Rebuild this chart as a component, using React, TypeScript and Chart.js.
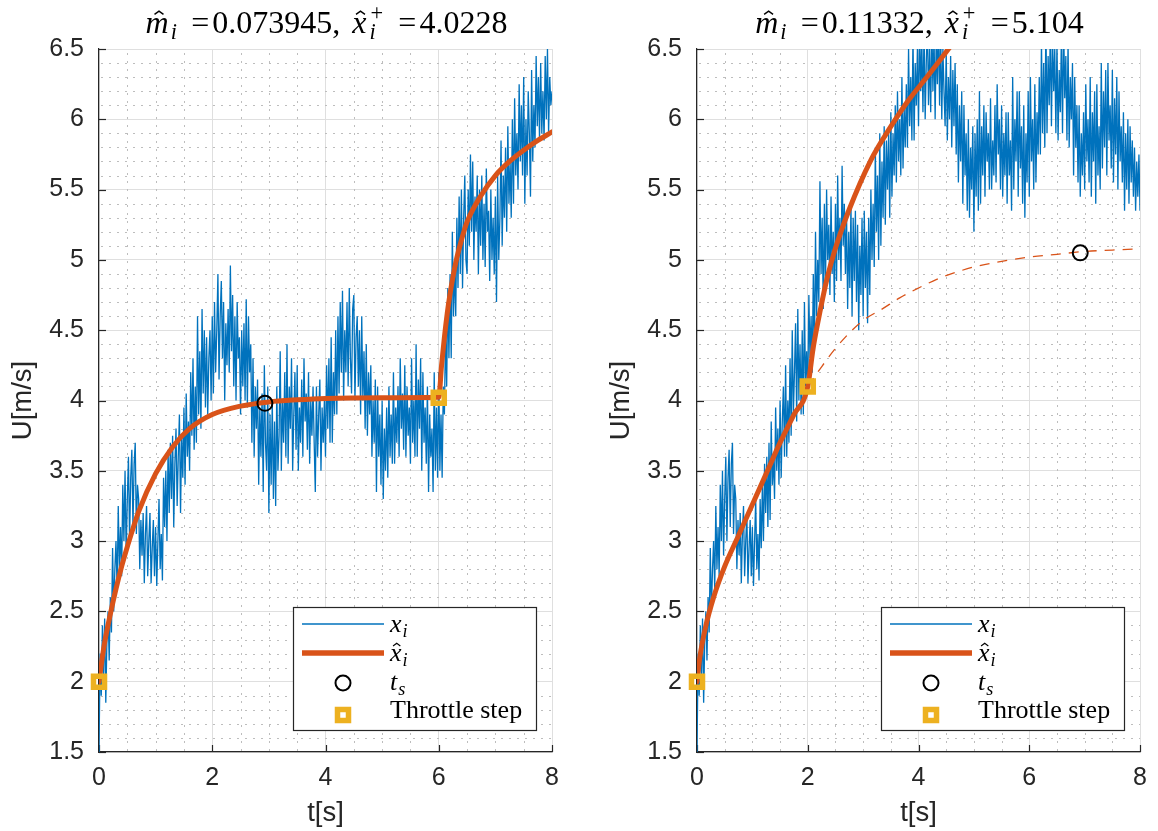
import React, { useEffect, useRef } from "react";
import { Chart, registerables } from "chart.js";

Chart.register(...registerables);

// ---------------- data ----------------
const SAMPLE_DT = 0.02; // sampling period of the measured signal [s]

// Left panel, measured speed x_i [m/s], one value every SAMPLE_DT from t = 0 to 8 s
const LEFT_U = [
  1.5, 2.2, 1.9, 2.4, 2.05, 2.45, 1.85, 2.3, 2.5, 2.15, 2.6, 2.35, 2.95, 2.5, 2.8, 3.0, 2.65, 3.25, 2.8, 3.1, 2.75, 3.4, 3.0, 3.5, 2.9,
  3.3, 3.6, 3.0, 3.45, 3.65, 3.1, 3.55, 3.7, 3.05, 3.4, 3.3, 2.8, 3.15, 2.9, 3.2, 2.7, 3.05, 3.25, 2.75, 3.0, 3.2, 2.7, 2.95, 3.15, 2.75,
  3.1, 2.68, 3.0, 3.3, 2.8, 3.05, 2.72, 3.45, 3.1, 3.5, 3.0, 3.65, 3.2, 3.7, 3.3, 3.75, 3.1, 3.55, 3.8, 3.25, 3.6, 3.9, 3.2, 3.75, 3.45,
  3.95, 3.4, 4.05, 3.6, 3.85, 3.5, 4.2, 3.75, 4.3, 3.65, 4.1, 3.7, 4.6, 3.9, 4.35, 3.8, 4.65, 4.05, 4.5, 3.95, 4.45, 3.9, 4.3, 4.5, 4.0,
  4.6, 4.05, 4.7, 4.2, 4.5, 4.9, 4.15, 4.6, 4.85, 4.3, 4.7, 4.0, 4.55, 4.25, 4.65, 4.2, 4.96, 4.35, 4.75, 4.1, 4.6, 4.0, 4.7, 4.3, 4.45,
  3.9, 4.5, 4.1, 4.55, 4.0, 4.72, 3.95, 4.6, 4.2, 4.4, 3.7, 4.3, 3.6, 4.1, 3.8, 4.15, 3.4, 3.95, 3.6, 4.05, 3.35, 4.25, 3.7, 3.5, 4.1,
  3.2, 3.9, 3.4, 4.0, 3.3, 3.85, 3.25, 4.1, 3.5, 3.75, 4.35, 3.5, 4.0, 3.7, 4.2, 3.6, 4.4, 3.55, 4.1, 3.8, 4.3, 3.5, 3.9, 4.2, 3.65,
  4.25, 3.5, 3.95, 3.7, 4.15, 3.6, 4.3, 3.85, 4.05, 3.65, 4.2, 3.55, 4.0, 3.75, 4.1, 3.7, 3.35, 4.1, 3.6, 3.9, 4.15, 3.5, 3.95, 3.7, 4.0,
  3.6, 4.25, 3.8, 4.3, 3.7, 4.45, 3.7, 4.2, 3.9, 4.5, 3.9, 4.6, 4.05, 4.7, 4.2, 4.78, 4.0, 4.5, 4.2, 4.7, 4.1, 4.8, 4.3, 4.05, 4.65,
  4.75, 4.0, 4.45, 4.6, 4.1, 4.5, 3.9, 4.6, 4.0, 4.35, 3.8, 4.4, 3.75, 4.2, 3.9, 4.25, 3.6, 4.0, 3.7, 4.15, 3.35, 4.1, 3.6, 3.9, 3.4,
  4.0, 3.3, 3.8, 3.5, 3.95, 3.45, 4.1, 3.6, 3.9, 3.55, 4.2, 3.55, 3.95, 3.7, 4.1, 3.6, 4.3, 3.8, 4.05, 3.65, 4.25, 3.6, 4.1, 3.75, 3.95,
  3.55, 4.3, 3.7, 4.0, 3.6, 4.4, 3.6, 4.15, 3.8, 4.3, 3.5, 4.2, 3.7, 3.95, 3.55, 4.1, 3.35, 3.9, 3.6, 3.8, 3.35, 4.2, 3.5, 3.95, 3.45,
  4.2, 3.5, 3.9, 3.45, 4.1, 3.9, 4.5, 4.1, 4.8, 4.3, 4.9, 4.3, 5.2, 4.6, 4.95, 4.6, 5.3, 4.8, 5.45, 4.9, 5.5, 4.8, 5.3, 5.6, 5.0,
  4.9, 5.5, 5.1, 5.75, 5.2, 5.7, 5.0, 5.45, 5.2, 5.6, 4.9, 5.5, 5.1, 5.6, 5.0, 5.4, 4.95, 5.65, 5.2, 5.35, 4.85, 5.5, 5.0, 5.3, 4.9,
  5.45, 4.7, 5.6, 5.0, 5.3, 5.85, 5.1, 5.6, 5.3, 5.8, 5.2, 5.95, 5.4, 5.7, 5.3, 6.0, 5.4, 6.15, 5.6, 5.9, 5.5, 6.25, 5.7, 6.1, 5.6,
  6.3, 5.4, 6.0, 5.6, 6.2, 5.9, 5.45, 6.35, 5.7, 6.1, 5.8, 6.45, 5.95, 6.3, 5.85, 6.4, 5.9, 6.2, 5.85, 6.45, 6.0, 6.5, 5.9, 6.3, 6.1,
  6.2,
];

// Right panel, measured speed x_i [m/s]
const RIGHT_U = [
  1.5, 2.2, 1.9, 2.4, 2.05, 2.45, 1.85, 2.3, 2.5, 2.15, 2.6, 2.35, 2.95, 2.5, 2.8, 3.0, 2.65, 3.25, 2.8, 3.1, 2.75, 3.4, 3.0, 3.5, 2.9,
  3.3, 3.6, 3.0, 3.45, 3.65, 3.1, 3.55, 3.7, 3.05, 3.4, 3.3, 2.8, 3.15, 2.9, 3.2, 2.7, 3.05, 3.25, 2.75, 3.0, 3.2, 2.7, 2.95, 3.15, 2.75,
  3.1, 2.68, 3.0, 3.3, 2.8, 3.05, 2.72, 3.3, 2.95, 3.4, 3.0, 3.55, 3.2, 3.6, 3.1, 3.7, 3.15, 3.85, 3.4, 3.6, 3.3, 3.95, 3.5, 3.8, 3.4,
  4.0, 3.45, 3.85, 4.1, 3.6, 4.25, 3.6, 4.0, 3.7, 4.3, 3.75, 4.5, 3.9, 4.2, 4.55, 3.85, 4.65, 4.0, 4.4, 3.9, 4.5, 3.9, 4.7, 4.1, 4.35,
  4.05, 4.75, 4.3, 4.6, 4.2, 4.9, 4.35, 5.2, 4.6, 5.0, 4.7, 5.56, 4.9, 5.3, 4.65, 5.4, 4.8, 5.5, 5.0, 5.25, 4.75, 5.45, 4.9, 5.2, 4.7,
  5.4, 4.85, 5.6, 5.0, 5.3, 4.85, 5.67, 5.1, 5.4, 4.9, 5.35, 4.65, 5.2, 4.8, 5.4, 4.6, 5.3, 4.85, 5.35, 4.7, 5.25, 4.5, 5.1, 4.75, 5.3,
  4.6, 5.35, 4.8, 5.2, 4.55, 5.3, 4.75, 5.5, 5.0, 5.4, 4.95, 5.8, 5.2, 5.6, 5.0, 5.9, 5.1, 5.7, 5.3, 5.95, 5.25, 5.85, 5.5, 5.9, 5.3,
  6.05, 5.45, 5.9, 5.6, 6.1, 5.55, 6.2, 5.7, 6.0, 5.6, 6.3, 5.65, 6.1, 5.8, 6.25, 5.8, 6.5, 5.95, 6.3, 5.85, 6.6, 5.85, 6.4, 6.1, 6.5,
  5.95, 6.7, 6.2, 6.55, 6.05, 6.65, 6.0, 6.4, 6.7, 6.1, 6.5, 6.05, 6.7, 6.2, 6.6, 6.0, 6.6, 6.25, 6.7, 6.1, 6.65, 6.0, 6.5, 6.2, 5.95,
  6.5, 5.85, 6.3, 6.0, 6.45, 5.8, 6.35, 5.95, 6.4, 5.75, 6.25, 5.55, 6.1, 5.7, 6.2, 5.4, 6.1, 5.6, 5.9, 5.35, 6.0, 5.3, 5.8, 5.5, 5.95,
  5.2, 5.9, 5.45, 6.0, 5.35, 6.2, 5.4, 5.95, 5.6, 6.1, 5.45, 6.05, 5.7, 5.9, 5.5, 6.15, 5.5, 5.85, 5.6, 6.1, 5.55, 6.25, 5.75, 6.0, 5.5,
  6.1, 5.45, 5.9, 5.6, 6.05, 5.4, 6.05, 5.6, 5.85, 5.35, 6.3, 5.5, 6.0, 5.7, 6.2, 5.45, 6.2, 5.65, 5.95, 5.4, 6.1, 5.3, 5.9, 5.55, 6.2,
  5.45, 6.3, 5.7, 6.0, 5.5, 6.25, 5.55, 6.05, 5.75, 6.3, 5.75, 6.55, 5.9, 6.4, 5.8, 6.7, 5.9, 6.45, 6.1, 6.65, 5.95, 6.6, 6.2, 6.5, 5.9,
  6.55, 5.85, 6.35, 6.05, 6.6, 5.9, 6.7, 6.15, 6.45, 5.85, 6.55, 5.8, 6.3, 6.0, 6.4, 5.6, 6.3, 5.8, 6.1, 5.55, 6.1, 5.45, 5.9, 5.6, 6.05,
  5.5, 6.25, 5.7, 6.0, 5.55, 6.3, 5.45, 6.05, 5.7, 6.2, 5.4, 6.25, 5.6, 5.95, 5.5, 6.4, 5.65, 6.2, 5.8, 6.35, 5.6, 6.4, 5.85, 6.1, 5.65,
  6.35, 5.55, 6.15, 5.75, 6.3, 5.5, 6.2, 5.7, 5.95, 5.55, 6.05, 5.35, 5.9, 5.5, 6.0, 5.4, 5.95, 5.55, 5.85, 5.45, 5.8, 5.35, 5.7, 5.45, 5.75,
  5.35,
];

// Fitted responses x̂_i
const LEFT_FIT_T = [0, 0.05, 0.1, 0.2, 0.3, 0.4, 0.5, 0.7, 1.0, 1.3, 1.6, 2.0, 2.5, 3.0, 3.5, 4.0, 5.0, 6.0, 6.05, 6.1, 6.15, 6.2, 6.3, 6.4, 6.5, 6.75, 7.0, 7.25, 7.5, 7.75, 8.0];
const LEFT_FIT_U = [2.0, 2.15, 2.28, 2.48, 2.66, 2.82, 2.96, 3.21, 3.48, 3.67, 3.8, 3.9, 3.96, 3.99, 4.005, 4.015, 4.02, 4.023, 4.25, 4.45, 4.62, 4.76, 4.98, 5.14, 5.27, 5.46, 5.6, 5.7, 5.78, 5.85, 5.91];

const RIGHT_FIT_T = [0, 0.05, 0.15, 0.3, 0.5, 0.75, 1.0, 1.25, 1.5, 1.75, 2.0, 2.1, 2.23, 2.35, 2.49, 2.75, 3.14, 3.47, 3.79, 4.19, 4.54, 4.7];
const RIGHT_FIT_U = [2.0, 2.17, 2.38, 2.6, 2.82, 3.04, 3.26, 3.48, 3.7, 3.9, 4.1, 4.38, 4.65, 4.87, 5.07, 5.36, 5.71, 5.93, 6.12, 6.32, 6.5, 6.58];

// Right panel: predicted response after the step (dashed)
const RIGHT_PRED_T = [2.0, 2.25, 2.5, 2.75, 3.0, 3.34, 3.66, 4.0, 4.38, 4.74, 5.0, 5.5, 6.0, 6.5, 7.0, 7.5, 8.0];
const RIGHT_PRED_U = [4.1, 4.24, 4.37, 4.48, 4.57, 4.65, 4.73, 4.8, 4.87, 4.92, 4.95, 4.99, 5.02, 5.04, 5.06, 5.07, 5.08];

// Settling points t_s
const LEFT_TS_T = [2.93];
const LEFT_TS_U = [3.98];
const RIGHT_TS_T = [6.92];
const RIGHT_TS_U = [5.05];

// Throttle steps
const LEFT_STEP_T = [0, 6];
const LEFT_STEP_U = [2.0, 4.02];
const RIGHT_STEP_T = [0, 2];
const RIGHT_STEP_U = [2.0, 4.1];

// Titles
const LEFT_M = "0.073945";
const LEFT_XP = "4.0228";
const RIGHT_M = "0.11332";
const RIGHT_XP = "5.104";

// Axes
const X_TICKS = [0, 2, 4, 6, 8];
const Y_TICKS = [1.5, 2, 2.5, 3, 3.5, 4, 4.5, 5, 5.5, 6, 6.5];
const X_LABEL = "t[s]";
const Y_LABEL = "U[m/s]";
const LEGEND_LABELS = ["x_i", "x̂_i", "t_s", "Throttle step"];

// ---------------- styles ----------------
const BLUE = "#0072BD";
const ORANGE = "#D95319";
const YELLOW = "#EDB120";
const AXIS = "#262626";
const GRID = "#dfdfdf";
const MINOR = "#bdbdbd";
const SANS = '"Liberation Sans", Arial, Helvetica, sans-serif';
const SERIF = '"Liberation Serif", "Times New Roman", serif';

type Run = { t?: string; it?: boolean; hat?: boolean; sup?: string; sub?: string; gap?: number };

function fnt(size: number, it: boolean) {
  return `${it ? "italic " : ""}${size}px ${SERIF}`;
}

function runWidth(ctx: CanvasRenderingContext2D, r: Run, size: number) {
  if (r.gap !== undefined) return r.gap;
  if (r.t !== undefined) {
    ctx.font = fnt(size, !!r.it);
    return ctx.measureText(r.t).width;
  }
  const ss = size * 0.7;
  let w = 0;
  if (r.sup) {
    ctx.font = fnt(ss, false);
    w = Math.max(w, ctx.measureText(r.sup).width);
  }
  if (r.sub) {
    ctx.font = fnt(ss, true);
    w = Math.max(w, ctx.measureText(r.sub).width);
  }
  return w + size * 0.04;
}

function drawMath(ctx: CanvasRenderingContext2D, runs: Run[], x0: number, base: number, size: number, align: "left" | "center") {
  let total = 0;
  for (const r of runs) total += runWidth(ctx, r, size);
  let x = align === "center" ? x0 - total / 2 : x0;
  ctx.save();
  ctx.textAlign = "left";
  ctx.textBaseline = "alphabetic";
  ctx.fillStyle = "#000";
  ctx.strokeStyle = "#000";
  for (const r of runs) {
    const w = runWidth(ctx, r, size);
    if (r.gap !== undefined) {
      // spacing only
    } else if (r.t !== undefined) {
      ctx.font = fnt(size, !!r.it);
      ctx.fillText(r.t, x, base);
      if (r.hat) {
        const cx = x + w * 0.58;
        const top = base - size * 0.68;
        const hw = size * 0.14;
        const hh = size * 0.1;
        ctx.beginPath();
        ctx.moveTo(cx - hw, top + hh);
        ctx.lineTo(cx, top);
        ctx.lineTo(cx + hw, top + hh);
        ctx.lineWidth = Math.max(1, size * 0.045);
        ctx.stroke();
      }
    } else {
      const ss = size * 0.7;
      if (r.sup) {
        ctx.font = fnt(ss, false);
        ctx.fillText(r.sup, x + size * 0.03, base - size * 0.42);
      }
      if (r.sub) {
        ctx.font = fnt(ss, true);
        ctx.fillText(r.sub, x, base + size * 0.2);
      }
    }
    x += w;
  }
  ctx.restore();
}

function mathRuns(label: string): Run[] {
  if (label === "x_i") return [{ t: "x", it: true }, { gap: 1 }, { sub: "i" }];
  if (label === "x̂_i") return [{ t: "x", it: true, hat: true }, { gap: 1 }, { sub: "i" }];
  if (label === "t_s") return [{ t: "t", it: true }, { gap: 1 }, { sub: "s" }];
  return [{ t: label }];
}

function decorPlugin(mVal: string, xVal: string) {
  return {
    id: "panelDecor",
    beforeDatasetsDraw(chart: any) {
      const { ctx, chartArea: ca, scales } = chart;
      const xs = scales.x;
      const ys = scales.y;
      ctx.save();
      // minor dotted grid
      ctx.strokeStyle = MINOR;
      ctx.lineWidth = 1;
      ctx.setLineDash([2, 6]);
      for (let i = 1; i < 16; i++) {
        if (i % 4 === 0) continue;
        const px = Math.round(xs.getPixelForValue(i * 0.5)) + 0.5;
        ctx.beginPath();
        ctx.moveTo(px, ca.bottom - 1);
        ctx.lineTo(px, ca.top);
        ctx.stroke();
      }
      for (let i = 1; i < 50; i++) {
        if (i % 5 === 0) continue;
        const py = Math.round(ys.getPixelForValue(1.5 + i * 0.1)) + 0.5;
        ctx.beginPath();
        ctx.moveTo(ca.left + 2, py);
        ctx.lineTo(ca.right, py);
        ctx.stroke();
      }
      ctx.setLineDash([]);
      // inward tick marks
      ctx.strokeStyle = AXIS;
      ctx.lineWidth = 1.2;
      for (const v of X_TICKS) {
        const px = Math.round(xs.getPixelForValue(v)) + 0.5;
        ctx.beginPath();
        ctx.moveTo(px, ca.bottom);
        ctx.lineTo(px, ca.bottom - 7);
        ctx.stroke();
      }
      for (const v of Y_TICKS) {
        const py = Math.round(ys.getPixelForValue(v)) + 0.5;
        ctx.beginPath();
        ctx.moveTo(ca.left, py);
        ctx.lineTo(ca.left + 7, py);
        ctx.stroke();
      }
      ctx.restore();
    },
    afterDraw(chart: any) {
      const { ctx, chartArea: ca } = chart;
      // title
      const titleRuns: Run[] = [
        { t: "m", it: true, hat: true },
        { gap: 2 },
        { sub: "i" },
        { gap: 13 },
        { t: "=" },
        { gap: 3 },
        { t: mVal + "," },
        { gap: 12 },
        { t: "x", it: true, hat: true },
        { gap: 3 },
        { sup: "+", sub: "i" },
        { gap: 15 },
        { t: "=" },
        { gap: 3 },
        { t: xVal },
      ];
      drawMath(ctx, titleRuns, (ca.left + ca.right) / 2 + 1, 33, 32, "center");

      // legend
      const W = 243;
      const H = 123;
      const bx = Math.round(ca.right - 16 - W);
      const by = Math.round(ca.bottom - 22 - H);
      ctx.save();
      ctx.fillStyle = "#fff";
      ctx.fillRect(bx, by, W, H);
      ctx.strokeStyle = AXIS;
      ctx.lineWidth = 1.2;
      ctx.strokeRect(bx + 0.5, by + 0.5, W, H);
      // x_i
      ctx.strokeStyle = BLUE;
      ctx.lineWidth = 1.3;
      ctx.beginPath();
      ctx.moveTo(bx + 9, by + 17);
      ctx.lineTo(bx + 91, by + 17);
      ctx.stroke();
      // fit
      ctx.strokeStyle = ORANGE;
      ctx.lineWidth = 5.5;
      ctx.beginPath();
      ctx.moveTo(bx + 9, by + 46);
      ctx.lineTo(bx + 91, by + 46);
      ctx.stroke();
      // t_s circle
      ctx.strokeStyle = "#000";
      ctx.lineWidth = 2;
      ctx.beginPath();
      ctx.arc(bx + 50, by + 76, 7.5, 0, Math.PI * 2);
      ctx.stroke();
      // throttle square
      ctx.strokeStyle = YELLOW;
      ctx.lineWidth = 5.5;
      ctx.strokeRect(bx + 50 - 5.5, by + 108 - 5.5, 11, 11);
      ctx.restore();
      const bases = [25, 54, 83, 111];
      LEGEND_LABELS.forEach((lab, i) => {
        drawMath(ctx, mathRuns(lab), bx + 97, by + bases[i], 26, "left");
      });
    },
  };
}

function pts(ts: number[], us: number[]) {
  return ts.map((t, i) => ({ x: t, y: us[i] }));
}

function sampled(us: number[]) {
  return us.map((u, i) => ({ x: i * SAMPLE_DT, y: u }));
}

type PanelSpec = {
  u: number[];
  fitT: number[];
  fitU: number[];
  predT?: number[];
  predU?: number[];
  tsT: number[];
  tsU: number[];
  stepT: number[];
  stepU: number[];
  m: string;
  xp: string;
  yWidth: number;
  padRight: number;
  yTitlePad: number;
};

function makeConfig(p: PanelSpec): any {
  const datasets: any[] = [
    {
      data: sampled(p.u),
      borderColor: BLUE,
      borderWidth: 1.3,
      pointRadius: 0,
      pointHoverRadius: 0,
      tension: 0,
      order: 5,
    },
    {
      data: pts(p.fitT, p.fitU),
      borderColor: ORANGE,
      borderWidth: 5,
      pointRadius: 0,
      pointHoverRadius: 0,
      cubicInterpolationMode: "monotone",
      borderCapStyle: "round",
      order: 4,
    },
  ];
  if (p.predT && p.predU) {
    datasets.push({
      data: pts(p.predT, p.predU),
      borderColor: ORANGE,
      borderWidth: 1.3,
      borderDash: [10, 8],
      pointRadius: 0,
      pointHoverRadius: 0,
      cubicInterpolationMode: "monotone",
      order: 3,
    });
  }
  datasets.push({
    data: pts(p.tsT, p.tsU),
    showLine: false,
    pointStyle: "circle",
    pointRadius: 7.5,
    pointHoverRadius: 7.5,
    pointBorderWidth: 2,
    pointBorderColor: "#000",
    pointBackgroundColor: "rgba(0,0,0,0)",
    clip: false,
    order: 2,
  });
  datasets.push({
    data: pts(p.stepT, p.stepU),
    showLine: false,
    pointStyle: "rect",
    pointRadius: 7.8,
    pointHoverRadius: 7.8,
    pointBorderWidth: 5.5,
    pointBorderColor: YELLOW,
    pointBackgroundColor: "rgba(0,0,0,0)",
    clip: false,
    order: 1,
  });

  return {
    type: "line",
    data: { datasets },
    options: {
      responsive: false,
      animation: false,
      devicePixelRatio: 1,
      events: [],
      layout: { padding: { left: 0, right: p.padRight, top: 49, bottom: 0 } },
      plugins: {
        legend: { display: false },
        tooltip: { enabled: false },
        title: { display: false },
      },
      scales: {
        x: {
          type: "linear",
          min: 0,
          max: 8,
          afterBuildTicks: (s: any) => {
            s.ticks = X_TICKS.map((v) => ({ value: v }));
          },
          afterFit: (s: any) => {
            s.height = 79;
          },
          ticks: {
            font: { family: SANS, size: 25 },
            color: AXIS,
            padding: 11,
            maxRotation: 0,
            autoSkip: false,
            callback: (v: any) => String(v),
          },
          grid: { color: GRID, lineWidth: 1, drawTicks: false },
          border: { color: AXIS, width: 1.2 },
          title: {
            display: true,
            text: X_LABEL,
            font: { family: SANS, size: 27.5 },
            color: AXIS,
            padding: { top: 0, bottom: 1 },
          },
        },
        y: {
          type: "linear",
          min: 1.5,
          max: 6.5,
          afterBuildTicks: (s: any) => {
            s.ticks = Y_TICKS.map((v) => ({ value: v }));
          },
          afterFit: (s: any) => {
            s.width = p.yWidth;
          },
          ticks: {
            font: { family: SANS, size: 25 },
            color: AXIS,
            padding: 15,
            autoSkip: false,
            callback: (v: any) => String(v),
          },
          grid: { color: GRID, lineWidth: 1, drawTicks: false },
          border: { color: AXIS, width: 1.2 },
          title: {
            display: true,
            text: Y_LABEL,
            font: { family: SANS, size: 27.5 },
            color: AXIS,
            padding: { top: p.yTitlePad, bottom: 0 },
          },
        },
      },
    },
    plugins: [decorPlugin(p.m, p.xp)],
  };
}

const LEFT_SPEC: PanelSpec = {
  u: LEFT_U,
  fitT: LEFT_FIT_T,
  fitU: LEFT_FIT_U,
  tsT: LEFT_TS_T,
  tsU: LEFT_TS_U,
  stepT: LEFT_STEP_T,
  stepU: LEFT_STEP_U,
  m: LEFT_M,
  xp: LEFT_XP,
  yWidth: 99,
  padRight: 28,
  yTitlePad: 7,
};

const RIGHT_SPEC: PanelSpec = {
  u: RIGHT_U,
  fitT: RIGHT_FIT_T,
  fitU: RIGHT_FIT_U,
  predT: RIGHT_PRED_T,
  predU: RIGHT_PRED_U,
  tsT: RIGHT_TS_T,
  tsU: RIGHT_TS_U,
  stepT: RIGHT_STEP_T,
  stepU: RIGHT_STEP_U,
  m: RIGHT_M,
  xp: RIGHT_XP,
  yWidth: 97,
  padRight: 9,
  yTitlePad: 5,
};

function Panel({ spec, left, width }: { spec: PanelSpec; left: number; width: number }) {
  const ref = useRef<HTMLCanvasElement | null>(null);
  useEffect(() => {
    if (!ref.current) return;
    const chart = new Chart(ref.current, makeConfig(spec));
    return () => chart.destroy();
  }, [spec]);
  return (
    <canvas
      ref={ref}
      width={width}
      height={831}
      style={{ position: "absolute", left, top: 0, width, height: 831, display: "block" }}
    />
  );
}

export default function App() {
  return (
    <div style={{ position: "fixed", left: 0, top: 0, width: 1158, height: 831, background: "#fff", overflow: "hidden" }}>
      <Panel spec={LEFT_SPEC} left={0} width={580} />
      <Panel spec={RIGHT_SPEC} left={600} width={558} />
    </div>
  );
}
